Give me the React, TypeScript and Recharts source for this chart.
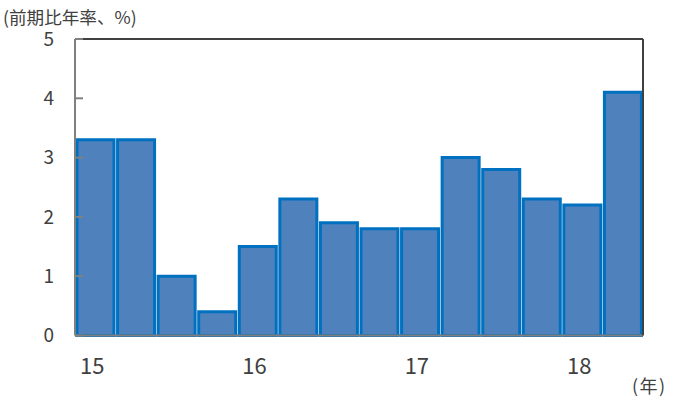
import React from 'react';
import { BarChart, Bar, XAxis, YAxis, CartesianGrid, ReferenceLine } from 'recharts';

const quarters = ['15Q1','15Q2','15Q3','15Q4','16Q1','16Q2','16Q3','16Q4','17Q1','17Q2','17Q3','17Q4','18Q1','18Q2'];
const growth = [3.3, 3.3, 1.0, 0.4, 1.5, 2.3, 1.9, 1.8, 1.8, 3.0, 2.8, 2.3, 2.2, 4.1];
const yTicks = [0, 1, 2, 3, 4, 5];
const yearBoundaryTicks = [4, 8, 12];
const titleText = '(前期比年率、%)';
const unitText = '(年)';

const data = quarters.map((q, i) => ({ q, v: growth[i] }));

const FONT = '"Noto Sans CJK JP", "Noto Sans", sans-serif';
const TEXT = '#404040';

const yearLabel = (q: string) => (q.endsWith('Q1') ? q.slice(0, 2) : '');

export default function App() {
  return (
    <div style={{ position: 'absolute', left: 0, top: 0, width: 677, height: 406, background: '#fff', fontFamily: FONT }}>
      <div style={{ position: 'absolute', left: 3, top: 10, fontSize: 17.6, color: TEXT, lineHeight: 0.85, whiteSpace: 'nowrap' }}>{titleText}</div>
      <div style={{ position: 'absolute', left: 632, top: 376, fontSize: 18, letterSpacing: 1.5, color: TEXT, lineHeight: 1, whiteSpace: 'nowrap' }}>{unitText}</div>
      <BarChart
        width={677}
        height={406}
        data={data}
        margin={{ top: 39, right: 0, bottom: 0, left: 0 }}
        barCategoryGap={2}
      >
        <CartesianGrid horizontal vertical={false} stroke="#808080" strokeWidth={2} />
        <XAxis
          xAxisId="marks"
          type="number"
          domain={[0, quarters.length]}
          ticks={yearBoundaryTicks}
          allowDataOverflow
          height={0}
          axisLine={false}
          tick={false}
          tickSize={-6}
          tickLine={{ stroke: '#808080', strokeWidth: 2 }}
        />
        <XAxis
          xAxisId="main"
          dataKey="q"
          height={70.5}
          interval={0}
          tickFormatter={yearLabel}
          tickLine={false}
          tickSize={0}
          tickMargin={23}
          axisLine={{ stroke: '#808080', strokeWidth: 2 }}
          tick={{ fill: TEXT, fontSize: 22, fontFamily: FONT, dx: -3 }}
        />
        <YAxis
          yAxisId="left"
          width={75}
          domain={[0, 5]}
          ticks={yTicks}
          interval={0}
          tickSize={-8}
          tickMargin={29}
          tickLine={{ stroke: '#808080', strokeWidth: 2 }}
          axisLine={{ stroke: '#808080', strokeWidth: 2 }}
          tick={{ fill: TEXT, fontSize: 19, fontFamily: FONT }}
        />
        <YAxis
          yAxisId="right"
          orientation="right"
          width={34}
          domain={[0, 5]}
          ticks={yTicks}
          tick={false}
          tickLine={false}
          axisLine={{ stroke: '#404040', strokeWidth: 2 }}
        />
        <ReferenceLine yAxisId="left" xAxisId="main" y={5} stroke="#404040" strokeWidth={2} />
        <Bar
          xAxisId="main"
          yAxisId="left"
          dataKey="v"
          fill="#4F81BD"
          stroke="#0070C0"
          strokeWidth={3}
          isAnimationActive={false}
        />
      </BarChart>
    </div>
  );
}
